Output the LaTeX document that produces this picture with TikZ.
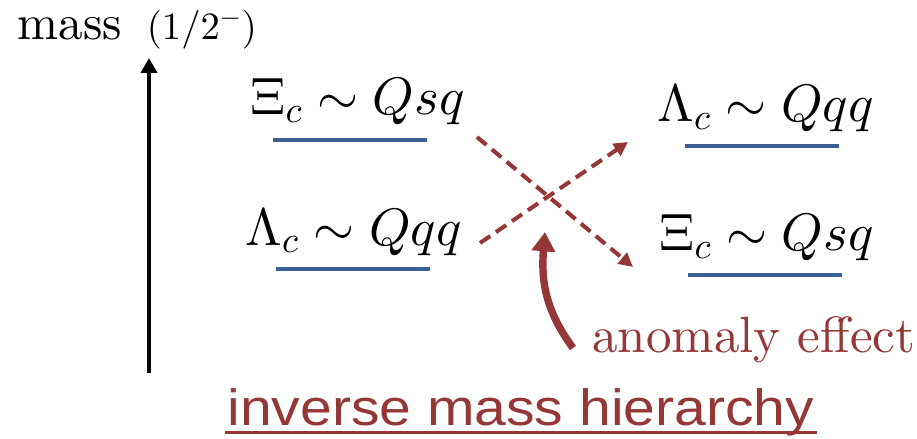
\documentclass[tikz,border=0pt]{standalone}
\usepackage{fontspec}
\setmainfont{lmroman10-regular.otf}
\newfontfamily\titlefont[FakeStretch=1.12]{Liberation Sans}
\DeclareFontShape{OT1}{cmr}{m}{n}{<->cmr10}{}
\DeclareFontShape{OML}{cmm}{m}{it}{<->cmmi10}{}
\DeclareFontShape{OMS}{cmsy}{m}{n}{<->cmsy10}{}
\usetikzlibrary{arrows.meta}
\definecolor{brick}{RGB}{150,55,55}
\definecolor{levblue}{RGB}{58,96,150}
\begin{document}
\begin{tikzpicture}[x=0.02cm,y=-0.02cm,line width=2.8pt,>=Triangle]
\tikzset{
  state/.style={anchor=base west,inner sep=0pt,font=\fontsize{30}{36}\selectfont},
  level/.style={draw=levblue,line width=2.6pt},
  mix/.style={brick,line width=2.3pt,dash pattern=on 7pt off 4pt,-{Triangle[length=8pt,width=8pt]}},
}
% level line: \lev{x from}{x to}{y}
\newcommand{\lev}[3]{\draw[level] (#1,#3) -- (#2,#3);}
\useasboundingbox (0,0) rectangle (917,439);
% ---------- mass axis ----------
\node[anchor=base west,inner sep=0pt,font=\fontsize{28}{34}\selectfont] (axislabel) at (15,40) {mass\hspace{5pt} {\fontsize{22}{26}\selectfont$(1/2^-)$}};
\coordinate (axisfoot) at (149,373);
\coordinate (axistip) at (149,58);
\draw[-{Triangle[length=0.3cm,width=0.32cm]}] (axisfoot) -- (axistip);
% ---------- left: usual ordering ----------
\node[state] (xiL) at (248,115) {$\Xi_c \sim Qsq$};
\lev{273}{427}{140}
\node[state] (laL) at (243,245) {$\Lambda_c \sim Qqq$};
\lev{276}{430}{269}
% ---------- right: inverted ordering ----------
\node[state] (laR) at (655,122) {$\Lambda_c \sim Qqq$};
\lev{685}{839}{146}
\node[state] (xiR) at (657,251) {$\Xi_c \sim Qsq$};
\lev{688}{842}{275}
% ---------- crossing ----------
\coordinate (xiout) at (477,137);
\coordinate (xiin) at (633,267);
\coordinate (laout) at (480,243);
\coordinate (lain) at (628,142);
\draw[mix] (xiout) -- (xiin);
\draw[mix] (laout) -- (lain);
% ---------- anomaly ----------
\node[anchor=base west,inner sep=0pt,brick,font=\fontsize{29}{35}\selectfont] (anomaly) at (590,352) {anomaly effect};
\coordinate (kicktail) at (573,348);
\coordinate (kicktip) at (545,232);
\draw[brick,line width=4.2pt,-{Triangle[length=11pt,width=13pt]}] (kicktail) .. controls (545,310) and (541,280) .. (kicktip);
% ---------- verdict ----------
\node[anchor=base west,inner sep=0pt,brick,font=\titlefont\fontsize{29}{35}\selectfont] (verdict) at (225,425) {inverse mass hierarchy};
\draw[brick,line width=1.7pt] ([yshift=-4.5pt]verdict.base west) -- ([yshift=-4.5pt]verdict.base east);
\end{tikzpicture}
\end{document}
